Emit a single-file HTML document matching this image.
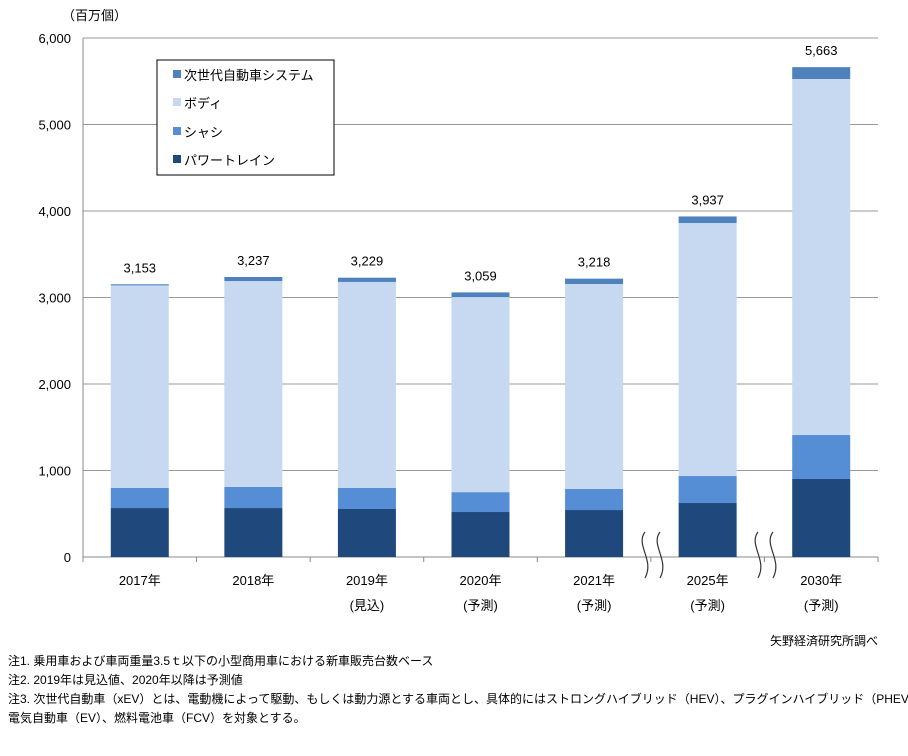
<!DOCTYPE html>
<html><head><meta charset="utf-8"><style>
body{margin:0;background:#fff;font-family:"Liberation Sans","Noto Sans CJK JP",sans-serif;}
svg text{font-family:"Liberation Sans","Noto Sans CJK JP",sans-serif;fill:#000;}
</style></head><body>
<svg width="908" height="751">
<g id="grid"></g><g id="bars"></g><g id="labels"></g>
<text x="62" y="20" font-size="13">（百万個）</text>
<g>
<rect x="157" y="60" width="177" height="115" fill="#fff" stroke="#000" stroke-width="1"/>
<rect x="173" y="70" width="8" height="8" fill="#4F81BD"/><text x="184" y="80" font-size="13">次世代自動車システム</text>
<rect x="173" y="98" width="8" height="8" fill="#C6D9F1"/><text x="184" y="108" font-size="13">ボディ</text>
<rect x="173" y="127" width="8" height="8" fill="#558ED5"/><text x="184" y="137" font-size="13">シャシ</text>
<rect x="173" y="155" width="8" height="8" fill="#1F497D"/><text x="184" y="165" font-size="13">パワートレイン</text>
</g>
<g fill="none" stroke="#333" stroke-width="1.2">
<path d="M645,532 C635,545 655,560 645,578"/><path d="M660,532 C650,545 670,560 660,578"/>
<path d="M758,532 C748,545 768,560 758,578"/><path d="M773,532 C763,545 783,560 773,578"/>
</g>
<text x="878" y="645" font-size="12" text-anchor="end">矢野経済研究所調べ</text>
<g font-size="12">
<text x="8" y="665">注1.  乗用車および車両重量3.5ｔ以下の小型商用車における新車販売台数ベース</text>
<text x="8" y="684">注2.  2019年は見込値、2020年以降は予測値</text>
<text x="8" y="703">注3.  次世代自動車（xEV）とは、電動機によって駆動、もしくは動力源とする車両とし、具体的にはストロングハイブリッド（HEV）、プラグインハイブリッド（PHEV）、</text>
<text x="8" y="722">電気自動車（EV）、燃料電池車（FCV）を対象とする。</text>
</g>
</svg>
<script>
const categories=["2017年","2018年","2019年","2020年","2021年","2025年","2030年"];
const subLabels=["","","(見込)","(予測)","(予測)","(予測)","(予測)"];
const powertrain=[566,566,555,520,543,624,902];
const chassis=[234,244,245,230,243,312,508];
const body=[2340,2380,2380,2255,2370,2925,4116];
const nextGen=[13,47,49,54,62,76,137];
const totals=["3,153","3,237","3,229","3,059","3,218","3,937","5,663"];
const yTicks=[0,1000,2000,3000,4000,5000,6000];
const yTickLabels=["0","1,000","2,000","3,000","4,000","5,000","6,000"];
const NS="http://www.w3.org/2000/svg";
const x0=83,x1=878,yB=557,yT=38,yMax=6000;
const y=v=>yB-(v/yMax)*(yB-yT);
const step=(x1-x0)/categories.length;
const cx=i=>x0+step*(i+0.5);
const bw=58;
function mk(tag,attrs,parent){const e=document.createElementNS(NS,tag);for(const k in attrs)e.setAttribute(k,attrs[k]);parent.appendChild(e);return e;}
const grid=document.getElementById('grid'),bars=document.getElementById('bars'),labels=document.getElementById('labels');
yTicks.forEach((t,i)=>{
  const l=mk('line',{x1:x0,x2:x1,y1:y(t),y2:y(t),stroke:i==0?'#888':'#999','stroke-width':1},grid);
  
  
  const tx=mk('text',{x:x0-12,y:y(t)+5,'font-size':13,'text-anchor':'end'},labels);
  tx.textContent=yTickLabels[i];
  
  
});
const ax=mk('line',{x1:x0,x2:x0,y1:yT,y2:yB,stroke:'#888'},grid);


for(let i=0;i<=categories.length;i++){
  const tk=mk('line',{x1:x0+step*i,x2:x0+step*i,y1:yB,y2:yB+5,stroke:'#888'},grid);
  
  
}
const series=[[powertrain,'#1F497D','powertrain'],[chassis,'#558ED5','chassis'],[body,'#C6D9F1','body'],[nextGen,'#4F81BD','next-gen']];
categories.forEach((c,i)=>{
  let base=0;
  series.forEach(([arr,col,nm])=>{
    const r=mk('rect',{x:cx(i)-bw/2,y:y(base+arr[i]),width:bw,height:y(base)-y(base+arr[i]),fill:col},bars);
    
    
    base+=arr[i];
  });
  const tl=mk('text',{x:cx(i),y:y(base)-12,'font-size':13,'text-anchor':'middle'},labels);
  tl.textContent=totals[i];
  
  
  const xl=mk('text',{x:cx(i),y:585,'font-size':13,'text-anchor':'middle'},labels);
  xl.textContent=c;
  
  
  if(subLabels[i]){
    const sl=mk('text',{x:cx(i),y:610,'font-size':13,'text-anchor':'middle'},labels);
    sl.textContent=subLabels[i];
    
    
  }
});
</script>
</body></html>
